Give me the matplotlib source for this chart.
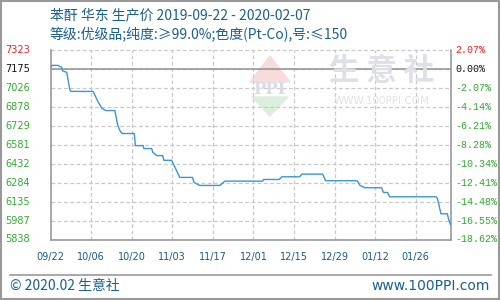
import numpy as np
import matplotlib
matplotlib.use('Agg')
import matplotlib.pyplot as plt
import matplotlib.transforms as mtrans
from matplotlib.patches import Rectangle, Polygon

plt.rcParams['font.family'] = ['Noto Sans CJK SC', 'DejaVu Sans']

# data: days after 2019-09-22, price (yuan/ton)
days = [0, 0.5, 2.5, 3.8, 4.2, 5.6, 6.7, 7, 14.7, 16.3, 17.7, 19.1, 22.2, 22.4,
        23.2, 23.9, 24.7, 28.9, 29.3, 32, 32.2, 34.9, 35.3, 36.7, 38.7, 39.1,
        41.8, 42.9, 44.6, 49, 49.5, 51.5, 58.4, 60.2, 73.2, 73.5, 78.9, 79.8,
        86, 86.7, 93.9, 94.9, 105.8, 106.8, 108.5, 114.2, 114.9, 116.3, 117,
        133, 133.5, 134.7, 136.9, 137.3, 138]
price = [7178, 7203, 7203, 7189, 7160, 7148, 7009, 6999, 6999, 6922, 6867, 6849,
         6849, 6826, 6734, 6694, 6669, 6669, 6574, 6574, 6551, 6551, 6522, 6496,
         6496, 6459, 6459, 6406, 6325, 6325, 6286, 6262, 6262, 6296, 6296, 6309,
         6309, 6330, 6330, 6351, 6351, 6299, 6299, 6262, 6244, 6244, 6207, 6207,
         6173, 6173, 6160, 6040, 6040, 6001, 5956]

xtick_days = [0, 14, 28, 42, 56, 70, 84, 98, 112, 126]
xtick_labels = ['09/22', '10/06', '10/20', '11/03', '11/17', '12/01', '12/15',
                '12/29', '01/12', '01/26']
ytick_labels = ['5838', '5987', '6135', '6284', '6432', '6581', '6729', '6878',
                '7026', '7175', '7323']
pct_labels = ['-18.62%', '-16.55%', '-14.48%', '-12.41%', '-10.34%', '-8.28%',
              '-6.21%', '-4.14%', '-2.07%', '0.00%', '2.07%']
base = 7175
step = 148.5

title1 = '苯酐 华东 生产价 2019-09-22 - 2020-02-07'
title2 = '等级:优级品;纯度:≥99.0%;色度(Pt-Co),号:≤150'

W, H = 500, 300
fig = plt.figure(figsize=(5, 3), dpi=100)
fig.patch.set_facecolor('white')

def fx(px):
    return px / W

def fy(py):
    return 1 - py / H

ax = fig.add_axes([fx(50.5), fy(239.5), fx(400), (239.5 - 50) / H])
yvals = [base + (k - 9) * step for k in range(11)]
ax.set_xlim(0, 138)
ax.set_ylim(yvals[0], yvals[-1])

#grid
grid_c = '#c8c8c8'
for y in yvals[1:]:
    ax.axhline(y, color=grid_c, lw=0.9, ls=(0, (3, 2)), zorder=1, clip_on=False)
for d in xtick_days[1:]:
    ax.axvline(d, color=grid_c, lw=0.9, ls=(0, (3, 2)), zorder=1)
ax.axhline(base, color='#999999', lw=1.2, zorder=2)

for s in ['left', 'bottom', 'right']:
    ax.spines[s].set_color('#999999')
    ax.spines[s].set_linewidth(1.2)
ax.spines['top'].set_visible(False)
ax.set_xticks([])
ax.set_yticks([])

# watermark
ax.add_patch(Polygon([[fx(250), fy(82)], [fx(270), fy(56)], [fx(290), fy(82)]],
                     closed=True, transform=fig.transFigure, color='#f8dcdc', zorder=0))
ax.add_patch(Polygon([[fx(252), fy(97)], [fx(270), fy(116)], [fx(288), fy(97)]],
                     closed=True, transform=fig.transFigure, color='#dcefdc', zorder=0))
fig.text(fx(270), fy(89), 'PPI', fontsize=12, color='#d6dce8', fontweight='bold',
         ha='center', va='center', family='DejaVu Serif', zorder=0)
fig.text(fx(382), fy(71), '生 意 社', fontsize=22, color='#dde0e6',
         ha='center', va='center', fontweight='bold', zorder=0)
fig.text(fx(382), fy(101), 'WWW.100PPI.COM', fontsize=7.5, color='#e2e2e2',
         ha='center', va='center', family='DejaVu Sans', zorder=0)

ax.plot(days, price, color='#3a96d6', lw=1.0, zorder=3)

# y labels, left price and right percent
tl = mtrans.blended_transform_factory(fig.transFigure, ax.transData)
for k, (y, lab, pl) in enumerate(zip(yvals, ytick_labels, pct_labels)):
    c = '#ee2222' if k == 10 else ('#111111' if k == 9 else '#33aa33')
    ax.text(fx(5), y, lab, transform=tl, fontsize=7, color=c, va='center',
            ha='left', family='DejaVu Sans', clip_on=False)
    ax.text(fx(455), y, pl, transform=tl, fontsize=7.2, color=c, va='center',
            ha='left', family='Liberation Mono', clip_on=False)

# x labels
xl = mtrans.blended_transform_factory(ax.transData, fig.transFigure)
for d, lab in zip(xtick_days, xtick_labels):
    ax.text(d, fy(257), lab, transform=xl, fontsize=7, color='#1a5a8a',
            ha='center', va='center', family='DejaVu Sans', clip_on=False)

title_c = '#1a5f8f'
fig.text(fx(50), fy(15), title1, fontsize=10, color=title_c, ha='left', va='center')
fig.text(fx(50), fy(34), title2, fontsize=10, color=title_c, ha='left', va='center')

# footer
fig.add_artist(plt.Line2D([fx(10), fx(491)], [fy(275), fy(275)], color='#999999',
                          lw=1.2, transform=fig.transFigure))
fig.text(fx(10), fy(286), '© 2020.02 生意社', fontsize=10, color=title_c,
         ha='left', va='center')
fig.text(fx(490), fy(286), 'www.100PPI.com', fontsize=10, color=title_c,
         ha='right', va='center', family='DejaVu Sans')

fig.add_artist(Rectangle((0.001, 0.002), 0.997, 0.995, transform=fig.transFigure,
                         fill=False, edgecolor='#999999', lw=1.5))

fig.savefig('out.png', dpi=100)
